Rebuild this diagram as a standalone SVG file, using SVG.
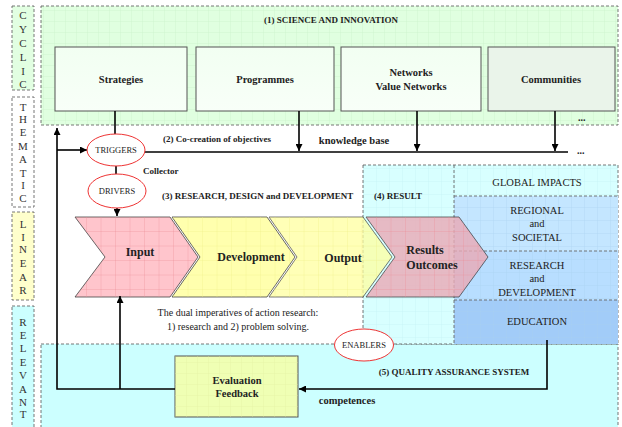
<svg xmlns="http://www.w3.org/2000/svg" width="622" height="427" viewBox="0 0 622 427">
<style>
.t{font-family:"Liberation Serif","Times New Roman",serif;fill:#222}
.b{font-weight:bold}
.col{font-family:"Liberation Serif",serif;font-size:11px;fill:#333;text-anchor:middle}
.dash{stroke:#666;stroke-width:0.9;stroke-dasharray:3,2}
.box{stroke:#555;stroke-width:1}
.ln{stroke:#000;stroke-width:1.6;fill:none}
.ell{fill:#fff;stroke:#ee3333;stroke-width:1}
.chev{stroke:#222;stroke-width:0.8}
</style>
<defs>
<pattern id="gG" width="11" height="11" patternUnits="userSpaceOnUse"><path d="M11 0V11M0 11H11" stroke="#c4f0c4" stroke-width="0.6" fill="none"/></pattern>
<pattern id="gR" width="14.5" height="14.5" patternUnits="userSpaceOnUse"><path d="M14.5 0V14.5M0 14.5H14.5" stroke="#ec8c96" stroke-width="0.6" fill="none"/></pattern>
<pattern id="gY" width="14.5" height="14.5" patternUnits="userSpaceOnUse"><path d="M14.5 0V14.5M0 14.5H14.5" stroke="#eeee88" stroke-width="0.6" fill="none"/></pattern>
<pattern id="gC" width="13" height="13" patternUnits="userSpaceOnUse"><path d="M13 0V13M0 13H13" stroke="#bfeef2" stroke-width="0.6" fill="none"/></pattern>
<pattern id="gB" width="13" height="13" patternUnits="userSpaceOnUse"><path d="M13 0V13M0 13H13" stroke="#a6cff0" stroke-width="0.6" fill="none"/></pattern>
<pattern id="gE" width="11" height="11" patternUnits="userSpaceOnUse"><path d="M11 0V11M0 11H11" stroke="#e2f0a0" stroke-width="0.6" fill="none"/></pattern>
<linearGradient id="boxG" x1="0" y1="0" x2="0" y2="1"><stop offset="0" stop-color="#f2fff2"/><stop offset="1" stop-color="#f8fff8"/></linearGradient>
<marker id="ar" viewBox="0 0 10 10" refX="10" refY="5" markerWidth="7" markerHeight="7" markerUnits="userSpaceOnUse" orient="auto"><path d="M0 0L10 5L0 10Z" fill="#000"/></marker>
</defs>

<!-- left columns -->
<g id="col-cyclic">
<rect x="12" y="6" width="22" height="84" fill="#e2ffe2" class="dash"/>
<text class="col" x="23" y="19">C</text><text class="col" x="23" y="33">Y</text><text class="col" x="23" y="47">C</text><text class="col" x="23" y="61">L</text><text class="col" x="23" y="75">I</text><text class="col" x="23" y="88">C</text>
</g>
<g id="col-thematic">
<rect x="12" y="97" width="22" height="110" fill="#fff" class="dash"/>
<text class="col" x="23" y="111">T</text><text class="col" x="23" y="123">H</text><text class="col" x="23" y="136">E</text><text class="col" x="23" y="150">M</text><text class="col" x="23" y="163">A</text><text class="col" x="23" y="177">T</text><text class="col" x="23" y="189">I</text><text class="col" x="23" y="202">C</text>
</g>
<g id="col-linear">
<rect x="12" y="212" width="22" height="88" fill="#ffffcc" class="dash"/>
<text class="col" x="23" y="228">L</text><text class="col" x="23" y="241">I</text><text class="col" x="23" y="253">N</text><text class="col" x="23" y="267">E</text><text class="col" x="23" y="281">A</text><text class="col" x="23" y="294">R</text>
</g>
<g id="col-relevant">
<rect x="12" y="306" width="22" height="125" fill="#ccffff" class="dash"/>
<text class="col" x="23" y="326">R</text><text class="col" x="23" y="339">E</text><text class="col" x="23" y="352">L</text><text class="col" x="23" y="366">E</text><text class="col" x="23" y="379">V</text><text class="col" x="23" y="393">A</text><text class="col" x="23" y="406">N</text><text class="col" x="23" y="418">T</text>
</g>

<!-- region 1 -->
<g id="science">
<rect x="41" y="6" width="577" height="119" fill="#e0ffe0"/>
<rect x="41" y="6" width="577" height="119" fill="url(#gG)" class="dash"/>
<text class="t b" x="331" y="23" font-size="9" text-anchor="middle">(1) SCIENCE AND INNOVATION</text>
<text class="t b" x="578" y="121" font-size="10">...</text>
</g>
<g id="strategies">
<rect x="55" y="47" width="132" height="64" fill="url(#boxG)" class="box"/>
<text class="t b" x="121" y="83" font-size="10.5" text-anchor="middle">Strategies</text>
</g>
<g id="programmes">
<rect x="196" y="47" width="138" height="64" fill="url(#boxG)" class="box"/>
<text class="t b" x="265" y="83" font-size="10.5" text-anchor="middle">Programmes</text>
</g>
<g id="networks">
<rect x="341" y="47" width="140" height="64" fill="url(#boxG)" class="box"/>
<text class="t b" x="411" y="76" font-size="10.5" text-anchor="middle">Networks</text>
<text class="t b" x="411" y="90" font-size="10.5" text-anchor="middle">Value Networks</text>
</g>
<g id="communities">
<rect x="488" y="47" width="127" height="64" fill="#eaf4ea" class="box"/>
<text class="t b" x="551" y="83" font-size="10.5" text-anchor="middle">Communities</text>
</g>

<!-- region 5 -->
<g id="quality">
<rect x="41" y="344" width="577" height="90" fill="#ccffff" class="dash"/>
<text class="t b" x="454" y="375" font-size="9" text-anchor="middle">(5) QUALITY ASSURANCE SYSTEM</text>
<text class="t b" x="347" y="404" font-size="10.5" text-anchor="middle">competences</text>
</g>

<!-- region 4 -->
<g id="result">
<rect x="363" y="165" width="255" height="179" fill="#d8ffff"/>
<rect x="363" y="165" width="255" height="179" fill="url(#gC)" class="dash"/>
<text class="t b" x="374" y="199" font-size="9">(4) RESULT</text>
</g>
<g id="global">
<rect x="454" y="196" width="164" height="55" fill="#c4e6ff"/>
<rect x="454" y="251" width="164" height="49" fill="#b8deff"/>
<rect x="454" y="300" width="164" height="44" fill="#a2ccf8"/>
<rect x="454" y="196" width="164" height="148" fill="url(#gB)"/>
<path d="M454 196H618M454 251H618M454 300H618" class="dash" stroke-width="0.6"/>
<path d="M454 165V344" class="dash"/>
<text class="t" x="537" y="186" font-size="10.5" text-anchor="middle">GLOBAL IMPACTS</text>
<text class="t" x="537" y="214" font-size="10.5" text-anchor="middle">REGIONAL</text>
<text class="t" x="537" y="227" font-size="10.5" text-anchor="middle">and</text>
<text class="t" x="537" y="241" font-size="10.5" text-anchor="middle">SOCIETAL</text>
<text class="t" x="537" y="269" font-size="10.5" text-anchor="middle">RESEARCH</text>
<text class="t" x="537" y="282" font-size="10.5" text-anchor="middle">and</text>
<text class="t" x="537" y="296" font-size="10.5" text-anchor="middle">DEVELOPMENT</text>
<text class="t" x="537" y="325" font-size="10.5" text-anchor="middle">EDUCATION</text>
</g>

<!-- chevrons -->
<g id="input">
<polygon points="75,217 170,217 198,257 170,297 75,297 105,257" fill="#ffbcc4" opacity="0.85" class="chev"/>
<polygon points="75,217 170,217 198,257 170,297 75,297 105,257" fill="url(#gR)"/>
<text class="t b" x="140" y="256" font-size="12" text-anchor="middle">Input</text>
</g>
<g id="development">
<polygon points="172,217 267,217 295,257 267,297 172,297 200,257" fill="#ffffa0" opacity="0.85" class="chev"/>
<polygon points="172,217 267,217 295,257 267,297 172,297 200,257" fill="url(#gY)"/>
<text class="t b" x="251" y="261" font-size="12" text-anchor="middle">Development</text>
</g>
<g id="output">
<polygon points="269,217 363,217 392,257 363,297 269,297 297,257" fill="#ffffa0" opacity="0.75" class="chev"/>
<polygon points="269,217 363,217 392,257 363,297 269,297 297,257" fill="url(#gY)"/>
<text class="t b" x="343" y="262" font-size="12" text-anchor="middle">Output</text>
</g>
<g id="results">
<polygon points="366,217 459,217 488,257 459,297 366,297 395,257" fill="#eaaab6" opacity="0.8" class="chev"/>
<polygon points="366,217 459,217 488,257 459,297 366,297 395,257" fill="url(#gR)"/>
<text class="t b" x="425" y="254" font-size="12" text-anchor="middle">Results</text>
<text class="t b" x="432" y="269" font-size="12" text-anchor="middle">Outcomes</text>
</g>

<!-- evaluation -->
<g id="evaluation">
<rect x="175" y="356" width="123" height="61" fill="#efffb4" class="box"/>
<rect x="175" y="356" width="123" height="61" fill="url(#gE)"/>
<text class="t b" x="237" y="384" font-size="10.5" text-anchor="middle">Evaluation</text>
<text class="t b" x="237" y="397" font-size="10.5" text-anchor="middle">Feedback</text>
</g>

<!-- connectors -->
<g id="connectors">
<path class="ln" d="M115 111V134"/>
<path class="ln" d="M299 111V151" marker-end="url(#ar)"/>
<path class="ln" d="M417 111V151" marker-end="url(#ar)"/>
<path class="ln" d="M555 111V151" marker-end="url(#ar)"/>
<path class="ln" d="M145 152H568"/>
<path class="ln" d="M116 166V174"/>
<path class="ln" d="M117 208V216" marker-end="url(#ar)"/>
<path class="ln" d="M175 389H57V128" marker-end="url(#ar)"/>
<path class="ln" d="M57 150H87" marker-end="url(#ar)"/>
<path class="ln" d="M120 389V296" marker-end="url(#ar)"/>
<path class="ln" d="M547 340V389H299" marker-end="url(#ar)"/>
</g>

<g id="labels">
<text class="t b" x="163" y="142" font-size="9">(2) Co-creation of objectives</text>
<text class="t b" x="354" y="144" font-size="10.5" text-anchor="middle">knowledge base</text>
<text class="t b" x="577" y="154" font-size="10">...</text>
<text class="t b" x="143" y="174" font-size="9">Collector</text>
<text class="t b" x="162" y="199" font-size="9">(3) RESEARCH, DESIGN and DEVELOPMENT</text>
<text class="t" x="238" y="316" font-size="10" text-anchor="middle">The dual imperatives of action research:</text>
<text class="t" x="238" y="330" font-size="10" text-anchor="middle">1) research and 2) problem solving.</text>
</g>

<g id="triggers">
<ellipse cx="116" cy="150" rx="29" ry="16" class="ell"/>
<text class="t" x="116" y="153" font-size="8.5" text-anchor="middle" fill="#444">TRIGGERS</text>
</g>
<g id="drivers">
<ellipse cx="117" cy="191" rx="29" ry="17" class="ell"/>
<text class="t" x="117" y="194" font-size="8.5" text-anchor="middle" fill="#444">DRIVERS</text>
</g>
<g id="enablers">
<ellipse cx="364" cy="345" rx="29.5" ry="16" class="ell"/>
<text class="t" x="364" y="348" font-size="8.5" text-anchor="middle" fill="#444">ENABLERS</text>
</g>
</svg>
